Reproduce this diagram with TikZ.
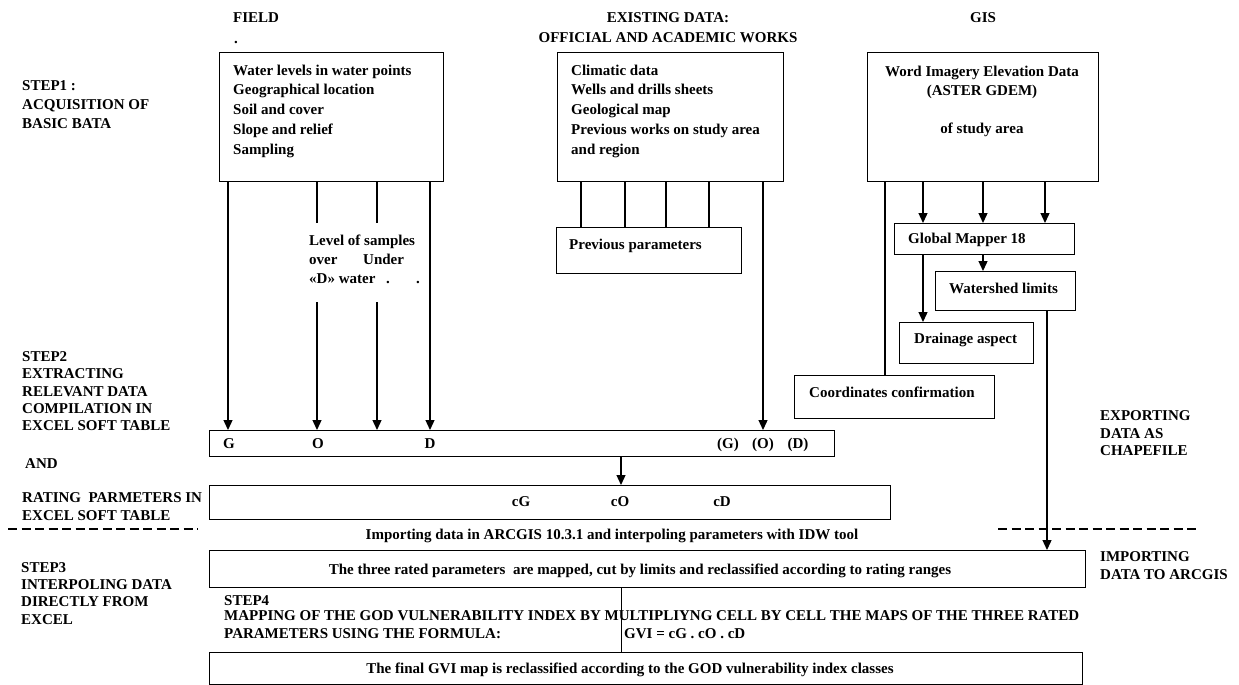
\documentclass[tikz,border=0pt]{standalone}
\usepackage{fontspec}
\setmainfont{Liberation Serif}
\usetikzlibrary{arrows.meta}
\newcommand\fsz{\fontsize{15pt}{17.3pt}\selectfont\bfseries}
\begin{document}
\begin{tikzpicture}[x=1pt,y=-1pt,
  box/.style={draw, line width=1.3pt, inner sep=0pt, anchor=north west},
  ghost/.style={inner sep=0pt, anchor=north west},
  txt/.style={font=\fsz, inner sep=0pt, anchor=base west},
  ctxt/.style={font=\fsz, inner sep=0pt, anchor=base},
  ln/.style={line width=1.3pt},
  thin/.style={line width=0.8pt},
  arr/.style={line width=1.3pt, -{Triangle[length=10pt,width=9pt]}},
  dsh/.style={line width=1.3pt, dash pattern=on 9pt off 4.5pt}]
\useasboundingbox[fill=white] (0,0) rectangle (1239,685);

% column coordinates
\coordinate (xG) at (228,0);
\coordinate (xO) at (317,0);
\coordinate (xU) at (377,0);
\coordinate (xD) at (430,0);
\coordinate (xp1) at (581,0);
\coordinate (xp2) at (625,0);
\coordinate (xp3) at (666,0);
\coordinate (xp4) at (709,0);
\coordinate (xE) at (763,0);
\coordinate (xC) at (885,0);
\coordinate (xg1) at (923,0);
\coordinate (xg2) at (983,0);
\coordinate (xg3) at (1045,0);
\coordinate (xW) at (1047,0);
\coordinate (xM) at (621,0);

% headers
\node[txt] (hfield) at (233,23) {FIELD};
\node[txt] (hdot) at (234,44) {.};
\node[ctxt] (hex1) at (668,23) {EXISTING DATA:};
\node[ctxt] (hex2) at (668,43) {OFFICIAL AND ACADEMIC WORKS};
\node[ctxt] (hgis) at (983,23) {GIS};

% step labels
\node[txt] (s1a) at (22,90) {STEP1 :};
\node[txt] (s1b) at (22,109) {ACQUISITION OF};
\node[txt] (s1c) at (22,128) {BASIC BATA};

\node[txt] (s2a) at (22,361) {STEP2};
\node[txt] (s2b) at (22,378) {EXTRACTING};
\node[txt] (s2c) at (22,396) {RELEVANT DATA};
\node[txt] (s2d) at (22,413) {COMPILATION IN};
\node[txt] (s2e) at (22,430) {EXCEL SOFT TABLE};
\node[txt] (s2f) at (25,468) {AND};
\node[txt] (s2g) at (22,502) {RATING\ \ PARMETERS IN};
\node[txt] (s2h) at (22,520) {EXCEL SOFT TABLE};

\node[txt] (s3a) at (21,572) {STEP3};
\node[txt] (s3b) at (21,589) {INTERPOLING DATA};
\node[txt] (s3c) at (21,606) {DIRECTLY FROM};
\node[txt] (s3d) at (21,624) {EXCEL};

\node[txt] (s4a) at (224,605) {STEP4};
\node[txt] (s4b) at (224,620) {MAPPING OF THE GOD VULNERABILITY INDEX BY MULTIPLIYNG CELL BY CELL THE MAPS OF THE THREE RATED};
\node[txt] (s4c) at (224,638) {PARAMETERS USING THE FORMULA:};
\node[txt] (s4d) at (624,638) {GVI = cG . cO . cD};

\node[txt] (ex1) at (1100,420) {EXPORTING};
\node[txt] (ex2) at (1100,438) {DATA AS};
\node[txt] (ex3) at (1100,455) {CHAPEFILE};
\node[txt] (im1) at (1100,561) {IMPORTING};
\node[txt] (im2) at (1100,579) {DATA TO ARCGIS};

% top boxes
\node[box, minimum width=224pt, minimum height=129pt] (field) at (219,52) {};
\node[txt] (f1) at (233,75) {Water levels in water points};
\node[txt] (f2) at (233,94.5) {Geographical location};
\node[txt] (f3) at (233,114) {Soil and cover};
\node[txt] (f4) at (233,134) {Slope and relief};
\node[txt] (f5) at (233,154) {Sampling};

\node[box, minimum width=226pt, minimum height=129pt] (exist) at (557,52) {};
\node[txt] (e1) at (571,75) {Climatic data};
\node[txt] (e2) at (571,94.5) {Wells and drills sheets};
\node[txt] (e3) at (571,114) {Geological map};
\node[txt] (e4) at (571,134) {Previous works on study area};
\node[txt] (e5) at (571,154) {and region};

\node[box, minimum width=231pt, minimum height=129pt] (gis) at (867,52) {};
\node[ctxt] (g1) at (982,77) {Word Imagery Elevation Data};
\node[ctxt] (g2) at (982,95) {(ASTER GDEM)};
\node[ctxt] (g3) at (982,133) {of study area};

% level of samples
\node[ghost, minimum width=105pt, minimum height=79pt] (samples) at (303,223) {};
\node[txt] (l1) at (309,245) {Level of samples};
\node[txt] (l2) at (309,264) {over};
\node[txt] (l3) at (363,264) {Under};
\node[txt] (l4) at (309,283) {«D» water};
\node[txt] (l5) at (386,283) {.};
\node[txt] (l6) at (416,283) {.};

% previous parameters
\node[box, minimum width=185pt, minimum height=46pt] (prev) at (556,227) {};
\node[txt] (pt) at (569,249) {Previous parameters};

% GIS chain
\node[box, minimum width=180pt, minimum height=31pt] (gm) at (894,223) {};
\node[txt] (gmt) at (908,243) {Global Mapper 18};
\node[box, minimum width=140pt, minimum height=39pt] (ws) at (935,271) {};
\node[txt] (wst) at (949,293) {Watershed limits};
\node[box, minimum width=134pt, minimum height=41pt] (dr) at (899,322) {};
\node[txt] (drt) at (914,343) {Drainage aspect};
\node[box, minimum width=200pt, minimum height=43pt] (co) at (794,375) {};
\node[txt] (cot) at (809,397) {Coordinates confirmation};

% table rows
\node[box, minimum width=625pt, minimum height=26pt] (god) at (209,430) {};
\node[ctxt] (rG) at (229,448) {G};
\node[ctxt] (rO) at (318,448) {O};
\node[ctxt] (rD) at (430,448) {D};
\node[ctxt] (rG2) at (728,448) {(G)};
\node[ctxt] (rO2) at (763,448) {(O)};
\node[ctxt] (rD2) at (798,448) {(D)};

\node[box, minimum width=681pt, minimum height=34pt] (rate) at (209,485) {};
\node[ctxt] (cG) at (521,506) {cG};
\node[ctxt] (cO) at (620,506) {cO};
\node[ctxt] (cD) at (722,506) {cD};

\node[ctxt] (imp) at (612,539) {Importing data in ARCGIS 10.3.1 and interpoling parameters with IDW tool};

\node[box, minimum width=876pt, minimum height=37pt] (s3box) at (209,550) {};
\node[ctxt] (s3t) at (640,574) {The three rated parameters\ \ are mapped, cut by limits and reclassified according to rating ranges};

\node[box, minimum width=873pt, minimum height=32pt] (final) at (209,652) {};
\node[ctxt] (fint) at (630,673) {The final GVI map is reclassified according to the GOD vulnerability index classes};

% dashed separators
\coordinate (dl1) at (8,529);
\coordinate (dl2) at (198,529);
\coordinate (dr1) at (998,529);
\coordinate (dr2) at (1200,529);
\draw[dsh] (dl1) -- (dl2);
\draw[dsh] (dr1) -- (dr2);

% field connectors
\draw[arr] (field.south -| xG) -- (god.north -| xG);
\draw[ln] (field.south -| xO) -- (samples.north -| xO);
\draw[arr] (samples.south -| xO) -- (god.north -| xO);
\draw[ln] (field.south -| xU) -- (samples.north -| xU);
\draw[arr] (samples.south -| xU) -- (god.north -| xU);
\draw[arr] (field.south -| xD) -- (god.north -| xD);

% existing connectors
\draw[ln] (exist.south -| xp1) -- (prev.north -| xp1);
\draw[ln] (exist.south -| xp2) -- (prev.north -| xp2);
\draw[ln] (exist.south -| xp3) -- (prev.north -| xp3);
\draw[ln] (exist.south -| xp4) -- (prev.north -| xp4);
\draw[arr] (exist.south -| xE) -- (god.north -| xE);

% GIS connectors
\draw[ln] (gis.south -| xC) -- (co.north -| xC);
\draw[arr] (gis.south -| xg1) -- (gm.north -| xg1);
\draw[arr] (gis.south -| xg2) -- (gm.north -| xg2);
\draw[arr] (gis.south -| xg3) -- (gm.north -| xg3);
\draw[arr] (gm.south -| xg2) -- (ws.north -| xg2);
\draw[arr] (gm.south -| xg1) -- (dr.north -| xg1);
\draw[arr] (ws.south -| xW) -- (s3box.north -| xW);

% lower connectors
\draw[arr] (god.south -| xM) -- (rate.north -| xM);
\draw[thin] (s3box.south -| xM) -- (final.north -| xM);
\end{tikzpicture}
\end{document}
